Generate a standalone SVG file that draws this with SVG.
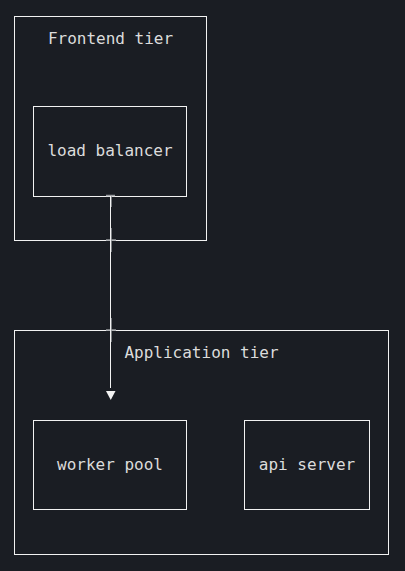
<svg xmlns="http://www.w3.org/2000/svg" width="405" height="571" viewBox="0 0 405 571">
<style>
.box{fill:none;stroke:#f2f2f2;stroke-width:1}
.lbl{font-family:"DejaVu Sans Mono","Liberation Mono",monospace;font-size:16px;fill:#dcdcdc;text-anchor:middle}
.edge{stroke:#f2f2f2;stroke-width:1;fill:none}
.tick{stroke:#9a9ca0;stroke-width:1.5;fill:none}
</style>
<defs>
<marker id="arr" markerWidth="10" markerHeight="10" refX="5" refY="0" orient="auto" markerUnits="userSpaceOnUse" viewBox="0 0 10 10">
<path d="M0,0 L10,0 L5,9 Z" fill="#f2f2f2"/>
</marker>
</defs>
<rect width="405" height="571" fill="#1a1d23"/>
<g id="frontend-tier">
<rect class="box" x="14.5" y="16.5" width="192" height="224"/>
<text class="lbl" x="110.5" y="44">Frontend tier</text>
</g>
<g id="application-tier">
<rect class="box" x="14.5" y="330.5" width="374" height="224"/>
<text class="lbl" x="201.5" y="358">Application tier</text>
</g>
<g id="load-balancer">
<rect class="box" x="33.5" y="106.5" width="153" height="90"/>
<text class="lbl" x="110" y="156">load balancer</text>
</g>
<g id="worker-pool">
<rect class="box" x="33.5" y="420.5" width="153" height="89"/>
<text class="lbl" x="110" y="470">worker pool</text>
</g>
<g id="api-server">
<rect class="box" x="244.5" y="420.5" width="125" height="89"/>
<text class="lbl" x="307" y="470">api server</text>
</g>
<g id="connectors">
<line class="tick" x1="106" y1="195.5" x2="115" y2="195.5"/>
<line class="tick" x1="111" y1="196" x2="111" y2="207"/>
<line class="tick" x1="111" y1="228" x2="111" y2="252"/>
<line class="tick" x1="106" y1="240" x2="116" y2="240"/>
<line class="tick" x1="111" y1="318" x2="111" y2="342"/>
<line class="tick" x1="106" y1="330" x2="116" y2="330"/>
<line class="edge" x1="110.5" y1="196" x2="110.5" y2="388"/>
<path d="M106,391 L115.5,391 L110.75,400 Z" fill="#f2f2f2"/>
</g>
</svg>
